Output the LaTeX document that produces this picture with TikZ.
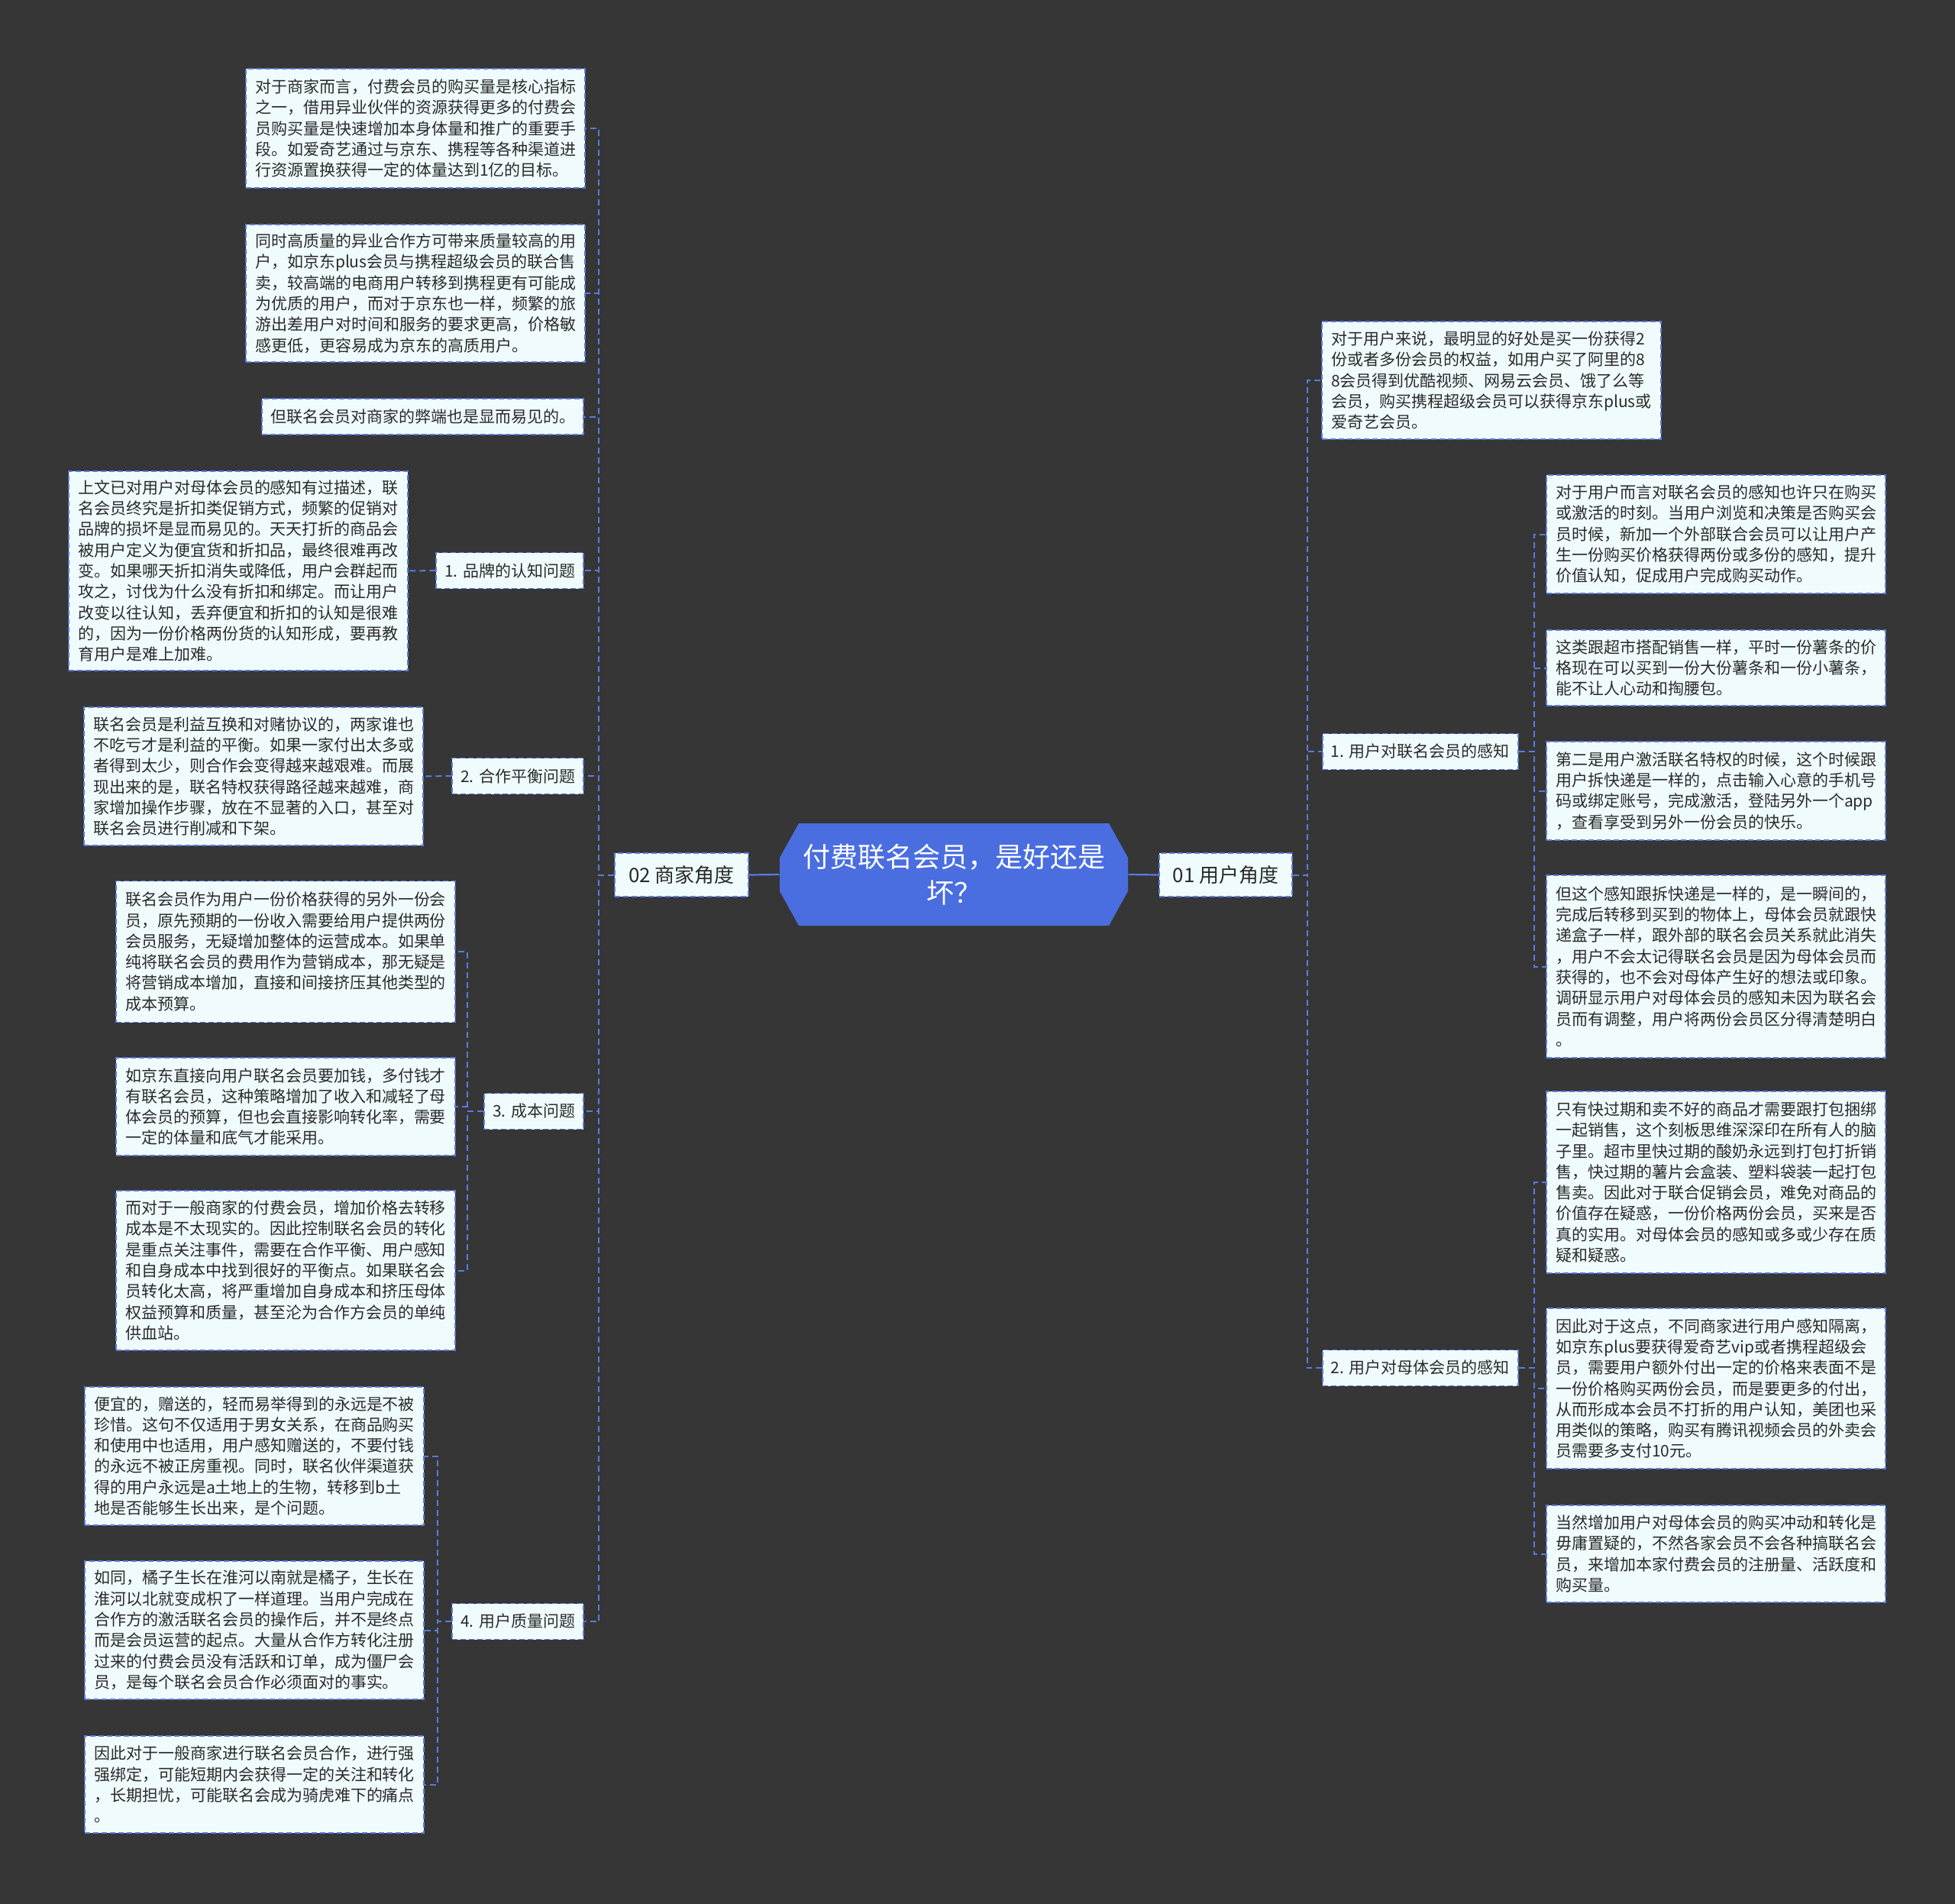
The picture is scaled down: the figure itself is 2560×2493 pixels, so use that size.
\documentclass[tikz,border=0pt]{standalone}
\usepackage{fontspec}
\newfontfamily\cjk{Noto Sans CJK SC}
\usetikzlibrary{calc}
\definecolor{bgc}{HTML}{363636}
\definecolor{boxfill}{HTML}{F0FBFD}
\definecolor{lineblue}{HTML}{5A7BE0}
\definecolor{centralblue}{HTML}{4A6EE0}
\definecolor{txt}{HTML}{2A2A2A}
\tikzset{
  boxline/.style={draw=lineblue, dash pattern=on 7pt off 4pt, line width=1.8pt},
  leaf/.style={boxline, fill=boxfill, text=txt, font=\cjk\fontsize{21}{27.3}\selectfont, align=left, minimum width=444pt, inner xsep=11pt, inner ysep=6pt},
  mid/.style={boxline, fill=boxfill, text=txt, font=\cjk\fontsize{21}{27.3}\selectfont, minimum height=47pt, inner xsep=11pt},
  lvl/.style={boxline, fill=boxfill, text=txt, font=\cjk\fontsize{26}{32}\selectfont, minimum height=57pt, inner xsep=12pt},
  central/.style={text=white, font=\cjk\fontsize{36}{47}\selectfont, align=center, minimum width=457pt, minimum height=134pt},
  conn/.style={draw=lineblue, dash pattern=on 8pt off 5pt, line width=2pt},
  trunk/.style={draw=lineblue, line width=2.2pt}
}
\begin{document}
\begin{tikzpicture}[x=1pt,y=-1pt]
\useasboundingbox[fill=bgc] (0,0) rectangle (2560,2493);
% central
\fill[centralblue] (1046,1078) -- (1452,1078) -- (1477,1123) -- (1477,1167) -- (1452,1212) -- (1046,1212) -- (1021,1167) -- (1021,1123) -- cycle;
\node[central] (c) at (1249,1145) {付费联名会员，是好还是\\坏？};
% level 1
\node[lvl, minimum width=175pt] (m02) at (892.5,1145.5) {02 商家角度};
\node[lvl, minimum width=174pt] (m01) at (1605,1145.5) {01 用户角度};
% left leaves
\node[leaf, minimum height=156pt] (L1) at (544,168) {对于商家而言，付费会员的购买量是核心指标\\之一，借用异业伙伴的资源获得更多的付费会\\员购买量是快速增加本身体量和推广的重要手\\段。如爱奇艺通过与京东、携程等各种渠道进\\行资源置换获得一定的体量达到1亿的目标。};
\node[leaf, minimum height=180pt] (L2) at (544,384) {同时高质量的异业合作方可带来质量较高的用\\户，如京东plus会员与携程超级会员的联合售\\卖，较高端的电商用户转移到携程更有可能成\\为优质的用户，而对于京东也一样，频繁的旅\\游出差用户对时间和服务的要求更高，价格敏\\感更低，更容易成为京东的高质用户。};
\node[leaf, minimum width=0pt, minimum height=47pt, anchor=east] (L3) at (765,545.5) {但联名会员对商家的弊端也是显而易见的。};
\node[mid, anchor=east] (b1) at (765,747) {1. 品牌的认知问题};
\node[mid, anchor=east] (b2) at (765,1016) {2. 合作平衡问题};
\node[mid, anchor=east] (b3) at (765,1455) {3. 成本问题};
\node[mid, anchor=east] (b4) at (765,2123) {4. 用户质量问题};
\node[leaf, minimum height=261pt] (K1) at (312,747.5) {上文已对用户对母体会员的感知有过描述，联\\名会员终究是折扣类促销方式，频繁的促销对\\品牌的损坏是显而易见的。天天打折的商品会\\被用户定义为便宜货和折扣品，最终很难再改\\变。如果哪天折扣消失或降低，用户会群起而\\攻之，讨伐为什么没有折扣和绑定。而让用户\\改变以往认知，丢弃便宜和折扣的认知是很难\\的，因为一份价格两份货的认知形成，要再教\\育用户是难上加难。};
\node[leaf, minimum height=181pt] (P1) at (332,1016.5) {联名会员是利益互换和对赌协议的，两家谁也\\不吃亏才是利益的平衡。如果一家付出太多或\\者得到太少，则合作会变得越来越艰难。而展\\现出来的是，联名特权获得路径越来越难，商\\家增加操作步骤，放在不显著的入口，甚至对\\联名会员进行削减和下架。};
\node[leaf, minimum height=185pt] (C1) at (374,1246) {联名会员作为用户一份价格获得的另外一份会\\员，原先预期的一份收入需要给用户提供两份\\会员服务，无疑增加整体的运营成本。如果单\\纯将联名会员的费用作为营销成本，那无疑是\\将营销成本增加，直接和间接挤压其他类型的\\成本预算。};
\node[leaf, minimum height=128pt] (C2) at (374,1449) {如京东直接向用户联名会员要加钱，多付钱才\\有联名会员，这种策略增加了收入和减轻了母\\体会员的预算，但也会直接影响转化率，需要\\一定的体量和底气才能采用。};
\node[leaf, minimum height=209pt] (C3) at (374,1663.5) {而对于一般商家的付费会员，增加价格去转移\\成本是不太现实的。因此控制联名会员的转化\\是重点关注事件，需要在合作平衡、用户感知\\和自身成本中找到很好的平衡点。如果联名会\\员转化太高，将严重增加自身成本和挤压母体\\权益预算和质量，甚至沦为合作方会员的单纯\\供血站。};
\node[leaf, minimum height=181pt] (Q1) at (333,1906.5) {便宜的，赠送的，轻而易举得到的永远是不被\\珍惜。这句不仅适用于男女关系，在商品购买\\和使用中也适用，用户感知赠送的，不要付钱\\的永远不被正房重视。同时，联名伙伴渠道获\\得的用户永远是a土地上的生物，转移到b土\\地是否能够生长出来，是个问题。};
\node[leaf, minimum height=181pt] (Q2) at (333,2134.5) {如同，橘子生长在淮河以南就是橘子，生长在\\淮河以北就变成枳了一样道理。当用户完成在\\合作方的激活联名会员的操作后，并不是终点\\而是会员运营的起点。大量从合作方转化注册\\过来的付费会员没有活跃和订单，成为僵尸会\\员，是每个联名会员合作必须面对的事实。};
\node[leaf, minimum height=127pt] (Q3) at (333,2336.5) {因此对于一般商家进行联名会员合作，进行强\\强绑定，可能短期内会获得一定的关注和转化\\，长期担忧，可能联名会成为骑虎难下的痛点\\。};
% right side
\node[leaf, minimum height=154pt] (R0) at (1953,498) {对于用户来说，最明显的好处是买一份获得2\\份或者多份会员的权益，如用户买了阿里的8\\8会员得到优酷视频、网易云会员、饿了么等\\会员，购买携程超级会员可以获得京东plus或\\爱奇艺会员。};
\node[mid, anchor=west] (u1) at (1731,984) {1. 用户对联名会员的感知};
\node[mid, anchor=west] (u2) at (1731,1791) {2. 用户对母体会员的感知};
\node[leaf, minimum height=155pt] (A1) at (2247,699.5) {对于用户而言对联名会员的感知也许只在购买\\或激活的时刻。当用户浏览和决策是否购买会\\员时候，新加一个外部联合会员可以让用户产\\生一份购买价格获得两份或多份的感知，提升\\价值认知，促成用户完成购买动作。};
\node[leaf, minimum height=99pt] (A2) at (2247,874.5) {这类跟超市搭配销售一样，平时一份薯条的价\\格现在可以买到一份大份薯条和一份小薯条，\\能不让人心动和掏腰包。};
\node[leaf, minimum height=129pt] (A3) at (2247,1035.5) {第二是用户激活联名特权的时候，这个时候跟\\用户拆快递是一样的，点击输入心意的手机号\\码或绑定账号，完成激活，登陆另外一个app\\，查看享受到另外一份会员的快乐。};
\node[leaf, minimum height=239pt] (A4) at (2247,1265.5) {但这个感知跟拆快递是一样的，是一瞬间的，\\完成后转移到买到的物体上，母体会员就跟快\\递盒子一样，跟外部的联名会员关系就此消失\\，用户不会太记得联名会员是因为母体会员而\\获得的，也不会对母体产生好的想法或印象。\\调研显示用户对母体会员的感知未因为联名会\\员而有调整，用户将两份会员区分得清楚明白\\。};
\node[leaf, minimum height=238pt] (B1) at (2247,1548) {只有快过期和卖不好的商品才需要跟打包捆绑\\一起销售，这个刻板思维深深印在所有人的脑\\子里。超市里快过期的酸奶永远到打包打折销\\售，快过期的薯片会盒装、塑料袋装一起打包\\售卖。因此对于联合促销会员，难免对商品的\\价值存在疑惑，一份价格两份会员，买来是否\\真的实用。对母体会员的感知或多或少存在质\\疑和疑惑。};
\node[leaf, minimum height=210pt] (B2) at (2247,1818) {因此对于这点，不同商家进行用户感知隔离，\\如京东plus要获得爱奇艺vip或者携程超级会\\员，需要用户额外付出一定的价格来表面不是\\一份价格购买两份会员，而是要更多的付出，\\从而形成本会员不打折的用户认知，美团也采\\用类似的策略，购买有腾讯视频会员的外卖会\\员需要多支付10元。};
\node[leaf, minimum height=127pt] (B3) at (2247,2034.5) {当然增加用户对母体会员的购买冲动和转化是\\毋庸置疑的，不然各家会员不会各种搞联名会\\员，来增加本家付费会员的注册量、活跃度和\\购买量。};
% connectors
\draw[trunk] (c.west) -- (m02.east);
\draw[trunk] (c.east) -- (m01.west);
\foreach \n in {L1,L2,L3,b1,b2,b3,b4} \draw[conn] (m02.west) -- ++(-20,0) |- (\n.east);
\draw[conn] (b1.west) -- (K1.east);
\draw[conn] (b2.west) -- (P1.east);
\foreach \n in {C1,C2,C3} \draw[conn] (b3.west) -- ++(-21,0) |- (\n.east);
\foreach \n in {Q1,Q2,Q3} \draw[conn] (b4.west) -- ++(-18,0) |- (\n.east);
\foreach \n in {R0,u1,u2} \draw[conn] (m01.east) -- ++(19,0) |- (\n.west);
\foreach \n in {A1,A2,A3,A4} \draw[conn] (u1.east) -- ++(20,0) |- (\n.west);
\foreach \n in {B1,B2,B3} \draw[conn] (u2.east) -- ++(20,0) |- (\n.west);
\end{tikzpicture}
\end{document}
